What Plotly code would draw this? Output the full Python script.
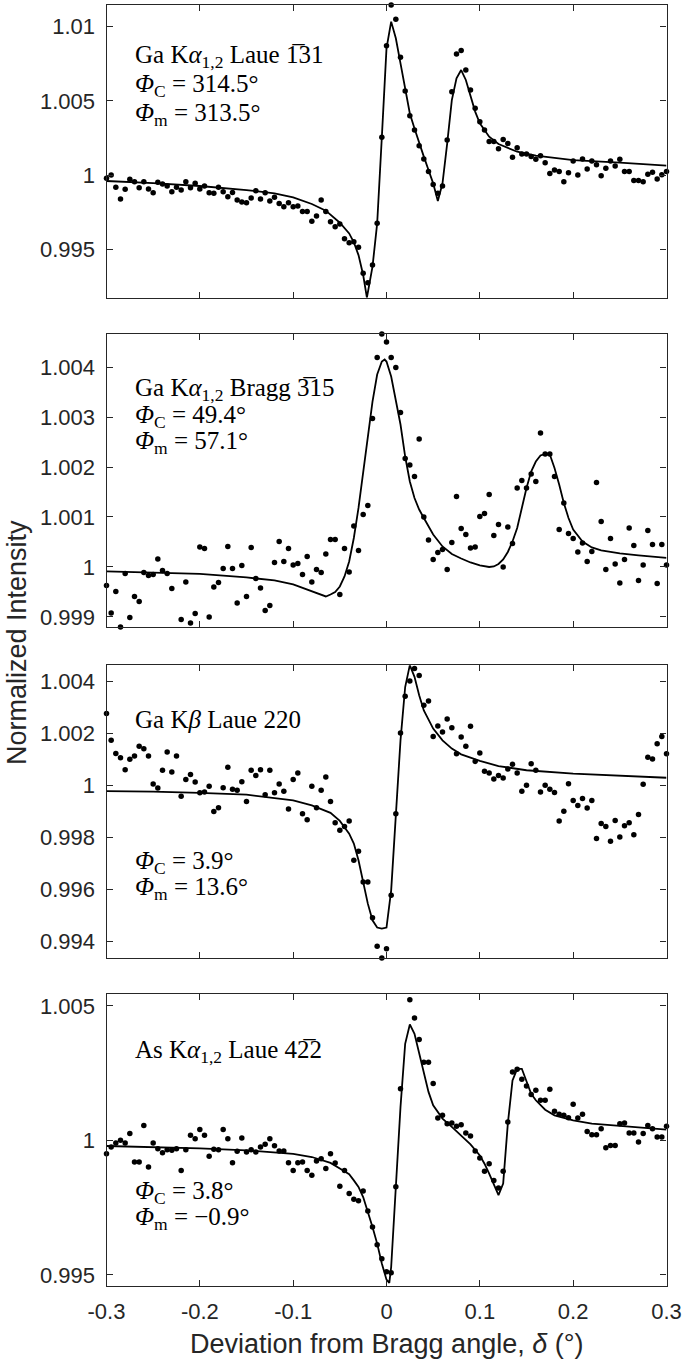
import plotly.graph_objects as go

# ---------------- data ----------------
delta_deg = [
    -0.300, -0.295, -0.290, -0.285, -0.280, -0.275, -0.270, -0.265, -0.260, -0.255,
    -0.250, -0.245, -0.240, -0.235, -0.230, -0.225, -0.220, -0.215, -0.210, -0.205,
    -0.200, -0.195, -0.190, -0.185, -0.180, -0.175, -0.170, -0.165, -0.160, -0.155,
    -0.150, -0.145, -0.140, -0.135, -0.130, -0.125, -0.120, -0.115, -0.110, -0.105,
    -0.100, -0.095, -0.090, -0.085, -0.080, -0.075, -0.070, -0.065, -0.060, -0.055,
    -0.050, -0.045, -0.040, -0.035, -0.030, -0.025, -0.020, -0.015, -0.010, -0.005,
    0.000, 0.005, 0.010, 0.015, 0.020, 0.025, 0.030, 0.035, 0.040, 0.045,
    0.050, 0.055, 0.060, 0.065, 0.070, 0.075, 0.080, 0.085, 0.090, 0.095,
    0.100, 0.105, 0.110, 0.115, 0.120, 0.125, 0.130, 0.135, 0.140, 0.145,
    0.150, 0.155, 0.160, 0.165, 0.170, 0.175, 0.180, 0.185, 0.190, 0.195,
    0.200, 0.205, 0.210, 0.215, 0.220, 0.225, 0.230, 0.235, 0.240, 0.245,
    0.250, 0.255, 0.260, 0.265, 0.270, 0.275, 0.280, 0.285, 0.290, 0.295,
    0.300,
]

# Panel 1: Ga Ka Laue -131
p1_meas = [
    0.99979, 1.00001, 0.99918, 0.99839, 0.99905, 0.99972, 0.99956, 0.99916, 0.99956, 0.99907,
    0.99882, 0.99952, 0.99941, 0.99927, 0.99889, 0.99918, 0.99900, 0.99956, 0.99916, 0.99945,
    0.99907, 0.99927, 0.99882, 0.99878, 0.99918, 0.99889, 0.99855, 0.99884, 0.99833, 0.99819,
    0.99815, 0.99846, 0.99896, 0.99839, 0.99882, 0.99826, 0.99851, 0.99810, 0.99788, 0.99815,
    0.99788, 0.99792, 0.99756, 0.99756, 0.99689, 0.99725, 0.99833, 0.99756, 0.99687, 0.99653,
    0.99671, 0.99572, 0.99545, 0.99552, 0.99514, 0.99339, 0.99276, 0.99395, 0.99676, 1.00255,
    1.00872,
    1.01146, 1.01050, 1.00794, 1.00567, 1.00401, 1.00304, 1.00199, 1.00109, 1.00024, 0.99938,
    0.99878, 0.99927, 1.00237, 1.00562, 1.00816, 1.00839, 1.00708, 1.00574, 1.00450, 1.00360,
    1.00304, 1.00226, 1.00226, 1.00178, 1.00241, 1.00214, 1.00120, 1.00185, 1.00143, 1.00143,
    1.00125, 1.00107, 1.00131, 1.00084, 1.00012, 1.00035, 1.00024, 0.99956, 1.00017, 1.00095,
    1.00001, 1.00109, 1.00042, 1.00095, 1.00071, 0.99997, 1.00046, 1.00095, 1.00062, 1.00107,
    1.00024, 1.00024, 0.99965, 0.99965, 0.99956, 1.00006, 1.00019, 0.99974, 1.00003, 1.00024,
]
p1_fit_x = [-0.300, -0.250, -0.200, -0.150, -0.120, -0.100, -0.080, -0.065, -0.050, -0.040,
            -0.035, -0.030, -0.025, -0.021, -0.015, -0.010, -0.005, 0.000, 0.005, 0.010,
            0.015, 0.020, 0.025, 0.030, 0.035, 0.040, 0.045, 0.050, 0.055, 0.060,
            0.065, 0.070, 0.075, 0.080, 0.085, 0.090, 0.095, 0.100, 0.110, 0.120,
            0.140, 0.160, 0.200, 0.250, 0.300]
p1_fit_y = [0.99961, 0.99947, 0.99927, 0.99900, 0.99878, 0.99851, 0.99806, 0.99761, 0.99680, 0.99608,
            0.99548, 0.99462, 0.99328, 0.99175, 0.99384, 0.99675, 1.00255, 1.00854, 1.01034, 1.00922,
            1.00753, 1.00574, 1.00416, 1.00315, 1.00214, 1.00125, 1.00035, 0.99945, 0.99826, 0.99945,
            1.00213, 1.00506, 1.00652, 1.00708, 1.00641, 1.00529, 1.00428, 1.00349, 1.00259, 1.00210,
            1.00158, 1.00131, 1.00102, 1.00084, 1.00064]

# Panel 2: Ga Ka Bragg -315
p2_meas = [
    0.99963, 0.99908, 0.99951, 0.99880, 0.99987, 0.99899, 0.99941, 0.99931, 0.99989, 0.99983,
    0.99985, 1.00016, 0.99993, 0.99987, 0.99957, 0.99879, 0.99895, 0.99970, 0.99888, 0.99907,
    1.00040, 1.00037, 0.99900, 0.99960, 0.99969, 0.99997, 1.00041, 0.99997, 0.99928, 1.00003,
    0.99941, 1.00039, 0.99977, 0.99958, 0.99913, 0.99923, 1.00009, 1.00051, 1.00011, 1.00037,
    1.00004, 1.00007, 0.99985, 1.00021, 0.99970, 0.99995, 0.99989, 1.00026, 1.00055, 1.00055,
    0.99945, 1.00037, 0.99990, 1.00082, 1.00033, 1.00105, 1.00123, 1.00297, 1.00419, 1.00466,
    1.00450,
    1.00419, 1.00399, 1.00309, 1.00217, 1.00204, 1.00181, 1.00256, 1.00100, 1.00054, 1.00015,
    1.00029, 1.00035, 0.99995, 1.00049, 1.00141, 1.00077, 1.00065, 1.00038, 1.00040, 1.00101,
    1.00107, 1.00145, 1.00063, 1.00085, 1.00000, 1.00080, 1.00047, 1.00158, 1.00173, 1.00158,
    1.00186, 1.00171, 1.00268, 1.00226, 1.00226, 1.00181, 1.00075, 1.00128, 1.00067, 1.00057,
    1.00030, 1.00048, 1.00011, 1.00031, 1.00169, 1.00091, 0.99995, 1.00057, 1.00006, 0.99968,
    1.00015, 1.00078, 1.00043, 0.99973, 1.00004, 1.00073, 1.00045, 0.99967, 1.00045, 1.00004,
]
p2_fit_x = [-0.300, -0.250, -0.200, -0.150, -0.120, -0.100, -0.090, -0.080, -0.070, -0.065,
            -0.060, -0.055, -0.050, -0.045, -0.040, -0.035, -0.030, -0.025, -0.020, -0.015,
            -0.010, -0.005, -0.002, 0.000, 0.005, 0.010, 0.015, 0.020, 0.025, 0.030,
            0.035, 0.040, 0.050, 0.060, 0.070, 0.080, 0.090, 0.100, 0.110, 0.115,
            0.120, 0.125, 0.130, 0.135, 0.140, 0.145, 0.150, 0.155, 0.160, 0.165,
            0.170, 0.175, 0.180, 0.185, 0.190, 0.195, 0.200, 0.210, 0.220, 0.230,
            0.250, 0.270, 0.300]
p2_fit_y = [0.99991, 0.99989, 0.99986, 0.99979, 0.99973, 0.99965, 0.99958, 0.99950, 0.99943, 0.99941,
            0.99945, 0.99950, 0.99961, 0.99981, 1.00011, 1.00058, 1.00118, 1.00191, 1.00265, 1.00331,
            1.00385, 1.00411, 1.00415, 1.00411, 1.00381, 1.00335, 1.00285, 1.00221, 1.00171, 1.00138,
            1.00115, 1.00098, 1.00065, 1.00041, 1.00026, 1.00017, 1.00009, 1.00003, 1.00000, 1.00001,
            1.00006, 1.00015, 1.00030, 1.00051, 1.00078, 1.00118, 1.00158, 1.00191, 1.00211, 1.00223,
            1.00226, 1.00225, 1.00198, 1.00165, 1.00128, 1.00098, 1.00075, 1.00051, 1.00039, 1.00033,
            1.00027, 1.00023, 1.00018]

# Panel 3: Ga Kb Laue 220
p3_meas = [
    1.00276, 1.00173, 1.00122, 1.00106, 1.00060, 1.00100, 1.00113, 1.00150, 1.00141, 1.00113,
    1.00005, 0.99990, 1.00058, 1.00128, 1.00051, 1.00113, 0.99958, 1.00022, 1.00042, 1.00013,
    0.99971, 0.99974, 0.99996, 0.99899, 0.99914, 0.99991, 1.00069, 0.99985, 0.99981, 1.00014,
    0.99938, 1.00058, 1.00038, 1.00060, 0.99964, 1.00058, 0.99971, 1.00005, 0.99977, 0.99909,
    1.00022, 1.00047, 0.99891, 0.99868, 0.99996, 0.99914, 0.99981, 1.00032, 0.99938, 0.99856,
    0.99827, 0.99842, 0.99863, 0.99712, 0.99746, 0.99628, 0.99628, 0.99491, 0.99381, 0.99336,
    0.99371,
    0.99577, 0.99891, 1.00201, 1.00342, 1.00401, 1.00449, 1.00422, 1.00308, 1.00324, 1.00188,
    1.00228, 1.00205, 1.00255, 1.00221, 1.00121, 1.00186, 1.00150, 1.00227, 1.00092, 1.00124,
    1.00054, 1.00047, 1.00024, 1.00038, 1.00028, 1.00063, 1.00081, 1.00047, 0.99977, 1.00000,
    1.00083, 1.00058, 0.99974, 1.00000, 0.99985, 0.99972, 0.99863, 0.99900, 1.00006, 0.99942,
    0.99922, 0.99949, 0.99913, 0.99942, 0.99795, 0.99853, 0.99842, 0.99785, 0.99865, 0.99801,
    0.99844, 0.99856, 0.99810, 0.99888, 1.00004, 1.00108, 1.00101, 1.00160, 1.00188, 1.00121,
]
p3_fit_x = [-0.300, -0.250, -0.200, -0.150, -0.100, -0.080, -0.060, -0.050, -0.040, -0.035,
            -0.030, -0.025, -0.020, -0.015, -0.010, -0.005, 0.000, 0.005, 0.010, 0.015,
            0.020, 0.025, 0.030, 0.035, 0.040, 0.050, 0.060, 0.070, 0.080, 0.100,
            0.120, 0.150, 0.200, 0.250, 0.300]
p3_fit_y = [0.99978, 0.99976, 0.99971, 0.99964, 0.99942, 0.99923, 0.99894, 0.99863, 0.99814, 0.99776,
            0.99712, 0.99628, 0.99545, 0.99481, 0.99453, 0.99449, 0.99453, 0.99596, 0.99891, 1.00173,
            1.00378, 1.00462, 1.00417, 1.00346, 1.00288, 1.00218, 1.00173, 1.00141, 1.00119, 1.00094,
            1.00074, 1.00058, 1.00045, 1.00037, 1.00029]

# Panel 4: As Ka Laue 4-22
p4_meas = [
    0.99950, 0.99975, 0.99990, 1.00000, 0.99990, 1.00025, 0.99919, 0.99919, 1.00055, 0.99901,
    0.99990, 0.99969, 0.99954, 0.99965, 0.99963, 0.99969, 0.99888, 0.99965, 1.00019, 1.00006,
    1.00040, 1.00019, 0.99941, 0.99967, 0.99965, 1.00040, 1.00006, 0.99917, 0.99959, 1.00009,
    0.99957, 0.99965, 0.99957, 0.99975, 0.99985, 1.00006, 0.99980, 0.99960, 0.99960, 0.99917,
    0.99888, 0.99917, 0.99919, 0.99888, 0.99870, 0.99923, 0.99932, 0.99895, 0.99950, 0.99916,
    0.99829, 0.99888, 0.99802, 0.99781, 0.99775, 0.99812, 0.99737, 0.99678, 0.99612, 0.99560,
    0.99511,
    0.99508, 0.99827, 1.00192, 1.00548, 1.00523, 1.00455, 1.00375, 1.00290, 1.00290, 1.00211,
    1.00083, 1.00093, 1.00062, 1.00064, 1.00052, 1.00058, 1.00027, 1.00016, 0.99960, 0.99934,
    0.99885, 0.99913, 0.99851, 0.99823, 0.99885, 1.00068, 1.00254, 1.00264, 1.00227, 1.00202,
    1.00170, 1.00186, 1.00149, 1.00149, 1.00190, 1.00108, 1.00097, 1.00093, 1.00084, 1.00134,
    1.00083, 1.00097, 1.00033, 1.00021, 1.00021, 1.00043, 0.99972, 0.99981, 0.99981, 1.00062,
    1.00064, 1.00027, 1.00027, 0.99994, 1.00025, 1.00055, 1.00043, 1.00012, 1.00012, 1.00052,
]
p4_fit_x = [-0.300, -0.250, -0.200, -0.150, -0.100, -0.080, -0.060, -0.050, -0.040, -0.035,
            -0.030, -0.025, -0.020, -0.015, -0.010, -0.005, 0.000, 0.003, 0.005, 0.010,
            0.015, 0.020, 0.025, 0.030, 0.035, 0.040, 0.045, 0.050, 0.060, 0.070,
            0.080, 0.090, 0.100, 0.105, 0.110, 0.115, 0.120, 0.125, 0.130, 0.135,
            0.140, 0.145, 0.150, 0.155, 0.160, 0.170, 0.180, 0.200, 0.220, 0.250,
            0.300]
p4_fit_y = [0.99979, 0.99975, 0.99970, 0.99963, 0.99950, 0.99938, 0.99916, 0.99895, 0.99874, 0.99851,
            0.99827, 0.99789, 0.99737, 0.99678, 0.99616, 0.99542, 0.99482, 0.99470, 0.99529, 0.99827,
            1.00124, 1.00359, 1.00431, 1.00396, 1.00322, 1.00248, 1.00180, 1.00130, 1.00081, 1.00050,
            1.00019, 0.99985, 0.99944, 0.99913, 0.99876, 0.99833, 0.99796, 0.99839, 1.00062, 1.00223,
            1.00266, 1.00266, 1.00217, 1.00173, 1.00149, 1.00114, 1.00093, 1.00074, 1.00062, 1.00053,
            1.00040]

x_ticks = [-0.3, -0.2, -0.1, 0, 0.1, 0.2, 0.3]
x_tick_labels = ["-0.3", "-0.2", "-0.1", "0", "0.1", "0.2", "0.3"]

y_ranges = [[0.99175, 1.01148], [0.998793, 1.004667], [0.993359, 1.004615], [0.994573, 1.005452]]
y_ticks = [[0.995, 1.0, 1.005, 1.01],
           [0.999, 1.0, 1.001, 1.002, 1.003, 1.004],
           [0.994, 0.996, 0.998, 1.0, 1.002, 1.004],
           [0.995, 1.0, 1.005]]
y_tick_labels = [["0.995", "1", "1.005", "1.01"],
                 ["0.999", "1", "1.001", "1.002", "1.003", "1.004"],
                 ["0.994", "0.996", "0.998", "1", "1.002", "1.004"],
                 ["0.995", "1", "1.005"]]

OV = "\u0305"  # combining overline
panel_labels = [
    [("Ga K<i>α</i><sub>1,2</sub> Laue 1" + OV + "31", 57), ("<i>Φ</i><sub>C</sub> = 314.5°", 86), ("<i>Φ</i><sub>m</sub> = 313.5°", 114)],
    [("Ga K<i>α</i><sub>1,2</sub> Bragg 3" + OV + "15", 390), ("<i>Φ</i><sub>C</sub> = 49.4°", 417), ("<i>Φ</i><sub>m</sub> = 57.1°", 443)],
    [("Ga K<i>β</i> Laue 220", 719), ("<i>Φ</i><sub>C</sub> = 3.9°", 862), ("<i>Φ</i><sub>m</sub> = 13.6°", 888)],
    [("As K<i>α</i><sub>1,2</sub> Laue 42" + OV + "2", 1051), ("<i>Φ</i><sub>C</sub> = 3.8°", 1192), ("<i>Φ</i><sub>m</sub> = −0.9°", 1218)],
]

# ---------------- layout geometry (pixels) ----------------
W, H = 685, 1364
PLOT_L, PLOT_R = 106.5, 666.5
PANELS_PX = [(4.7, 297.7), (333.7, 627.3), (665.3, 958.0), (993.7, 1286.3)]
AX_COLOR = "#262626"
TICK_FONT = dict(family="Liberation Sans, Arial, sans-serif", size=22, color=AX_COLOR)
LABEL_FONT = dict(family="Liberation Sans, Arial, sans-serif", size=27, color=AX_COLOR)
ANN_FONT = dict(family="Liberation Serif, Times New Roman, serif", size=25, color="black")


def px_x(px):
    return px / W


def px_y(py):
    return 1 - py / H


meas = [p1_meas, p2_meas, p3_meas, p4_meas]
fits = [(p1_fit_x, p1_fit_y), (p2_fit_x, p2_fit_y), (p3_fit_x, p3_fit_y), (p4_fit_x, p4_fit_y)]

fig = go.Figure()
layout = dict(
    width=W, height=H,
    margin=dict(l=0, r=0, t=0, b=0, pad=0, autoexpand=False),
    paper_bgcolor="white", plot_bgcolor="white",
    showlegend=False,
)
annotations = []

for n in range(4):
    sfx = "" if n == 0 else str(n + 1)
    assert len(meas[n]) == len(delta_deg), (n, len(meas[n]))
    assert len(fits[n][0]) == len(fits[n][1]), n
    fig.add_trace(go.Scatter(
        x=delta_deg, y=meas[n], mode="markers",
        marker=dict(color="black", size=5.5, line=dict(width=0)),
        xaxis="x" + sfx, yaxis="y" + sfx, cliponaxis=False,
    ))
    fig.add_trace(go.Scatter(
        x=fits[n][0], y=fits[n][1], mode="lines",
        line=dict(color="black", width=1.8),
        xaxis="x" + sfx, yaxis="y" + sfx,
    ))
    top, bot = PANELS_PX[n]
    common = dict(
        showline=True, linecolor=AX_COLOR, linewidth=1.2, mirror="ticks",
        ticks="inside", ticklen=6, tickwidth=1.1, tickcolor=AX_COLOR,
        showgrid=False, zeroline=False, tickfont=TICK_FONT, automargin=False,
    )
    layout["xaxis" + sfx] = dict(
        common, domain=[px_x(PLOT_L), px_x(PLOT_R)], range=[-0.3, 0.3],
        anchor="y" + sfx, tickvals=x_ticks, ticktext=x_tick_labels,
        showticklabels=(n == 3), ticklabelstandoff=5,
    )
    layout["yaxis" + sfx] = dict(
        common, domain=[px_y(bot), px_y(top)], range=y_ranges[n],
        anchor="x" + sfx, tickvals=y_ticks[n], ticktext=y_tick_labels[n],
        ticklabelstandoff=6,
    )
    for text, ypx in panel_labels[n]:
        annotations.append(dict(
            text=text, x=px_x(133), y=px_y(ypx), xref="paper", yref="paper",
            xanchor="left", yanchor="middle", showarrow=False, font=ANN_FONT,
        ))

annotations.append(dict(
    text="Normalized Intensity", x=px_x(17), y=px_y(643), xref="paper", yref="paper",
    xanchor="center", yanchor="middle", textangle=-90, showarrow=False, font=LABEL_FONT,
))
annotations.append(dict(
    text="Deviation from Bragg angle, <i>δ</i> (°)", x=px_x(386.5), y=px_y(1344),
    xref="paper", yref="paper", xanchor="center", yanchor="middle",
    showarrow=False, font=LABEL_FONT,
))
layout["annotations"] = annotations
fig.update_layout(**layout)
fig.write_html(
    "out.html",
    config={"displayModeBar": False},
    post_script="document.body.style.margin='0';document.body.style.padding='0';",
)
